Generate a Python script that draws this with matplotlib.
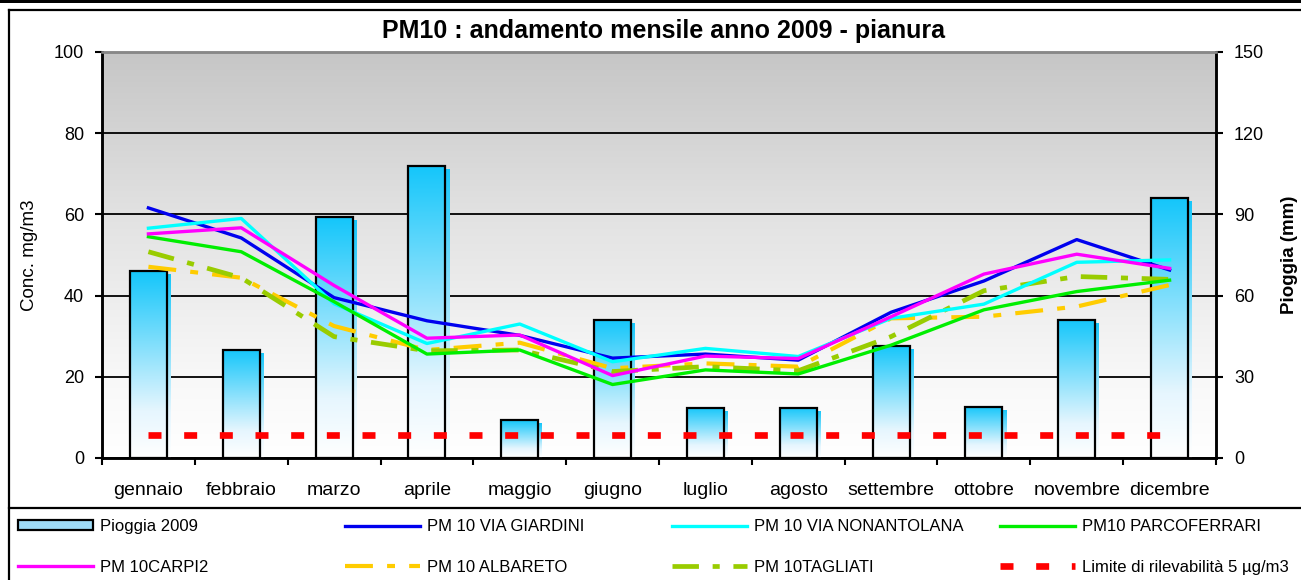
import numpy as np
import matplotlib
matplotlib.use("Agg")
import matplotlib.pyplot as plt
from matplotlib.colors import LinearSegmentedColormap
from matplotlib.lines import Line2D
from matplotlib.patches import Patch, Rectangle

plt.rcParams['font.family'] = ['Liberation Sans', 'DejaVu Sans']

months = ["gennaio", "febbraio", "marzo", "aprile", "maggio", "giugno",
          "luglio", "agosto", "settembre", "ottobre", "novembre", "dicembre"]

pioggia_2009 = [69, 40, 89, 108, 14, 51, 18.5, 18.5, 41.5, 19, 51, 96]

pm10_giardini = [61.6, 54.2, 39.5, 33.8, 30.2, 24.6, 25.6, 24.1, 35.9, 43.6, 53.8, 46.3]
pm10_nonantolana = [56.6, 59.0, 38.0, 28.2, 33.0, 23.7, 27.0, 25.0, 34.4, 37.9, 48.2, 48.8]
pm10_parcoferrari = [54.5, 50.8, 38.5, 25.6, 26.6, 18.1, 21.7, 20.7, 27.8, 36.5, 41.0, 43.8]
pm10_carpi2 = [55.2, 56.7, 42.5, 29.5, 30.3, 20.3, 25.1, 24.5, 34.8, 45.3, 50.2, 46.7]
pm10_albareto = [47.1, 44.4, 32.5, 26.6, 28.4, 22.1, 23.3, 22.5, 34.4, 34.8, 37.3, 42.6]
pm10_tagliati = [50.8, 44.4, 29.9, 26.4, 26.6, 21.3, 22.5, 21.5, 29.9, 41.2, 44.7, 44.0]
limite = [5.6] * 12

left_ticks = [0, 20, 40, 60, 80, 100]
right_ticks = [0, 30, 60, 90, 120, 150]

W, H = 1301, 580
fig = plt.figure(figsize=(W / 100, H / 100), dpi=100)
L, R, T, B = 102, 1216, 52, 458
ax2 = fig.add_axes([L / W, 1 - B / H, (R - L) / W, (B - T) / H])
ax = ax2.twinx()
ax.yaxis.tick_left()
ax.yaxis.set_label_position('left')
ax2.yaxis.tick_right()
ax2.yaxis.set_label_position('right')
ax.set_zorder(ax2.get_zorder() + 1)
ax.patch.set_visible(False)

x = np.arange(len(months))
xlim = (-0.5, len(months) - 0.5)

# background gradient
bg_cmap = LinearSegmentedColormap.from_list(
    'bg', [(0, '#ffffff'), (0.2, '#f8f8f8'), (0.6, '#e2e2e2'), (1, '#c6c6c6')])
grad = np.linspace(0, 1, 256).reshape(-1, 1)
ax2.imshow(grad, extent=[xlim[0], xlim[1], 0, 150], origin='lower', cmap=bg_cmap,
           aspect='auto', zorder=0)

# bars with gradient
bar_cmap = LinearSegmentedColormap.from_list('bar', [(0, '#ffffff'), (0.25, '#e6f6fe'), (1, '#14c6fa')])
shadow = ax2.bar(x + 0.035, np.array(pioggia_2009) - 1.1, width=0.4, color='none', lw=0, zorder=1.5)
for b in shadow:
    x0, w, h = b.get_x(), b.get_width(), b.get_height()
    im = ax2.imshow(grad, extent=[x0, x0 + w, 0, h], origin='lower', cmap=bar_cmap,
                    aspect='auto', zorder=1.5)
    im.set_clip_path(b)
bars = ax2.bar(x, pioggia_2009, width=0.4, facecolor='none', edgecolor='black', lw=1.6, zorder=3)
for b in bars:
    x0, w, h = b.get_x(), b.get_width(), b.get_height()
    im = ax2.imshow(grad, extent=[x0, x0 + w, 0, h], origin='lower', cmap=bar_cmap,
                    aspect='auto', zorder=2)
    im.set_clip_path(b)

ax2.set_xlim(*xlim)
ax2.set_ylim(0, 150)
ax2.set_yticks(right_ticks)
ax2.set_axisbelow(True)
ax2.yaxis.grid(True, color='black', lw=1.3)

# x axis (shown by ax2, shared with ax)
ax2.set_xticks(np.arange(-0.5, len(months)), minor=False)
ax2.set_xticklabels([])
ax2.set_xticks(x, minor=True)
ax2.set_xticklabels(months, minor=True, fontsize=14)
ax2.tick_params(axis='x', which='major', direction='out', length=5, width=1.5)
ax2.tick_params(axis='x', which='minor', length=0, pad=17)

# lines
lw = 2.4
l_gia, = ax.plot(x, pm10_giardini, color='#0000ee', lw=lw, zorder=5)
l_non, = ax.plot(x, pm10_nonantolana, color='#00ffff', lw=lw, zorder=5)
l_par, = ax.plot(x, pm10_parcoferrari, color='#00ee00', lw=lw, zorder=5)
l_car, = ax.plot(x, pm10_carpi2, color='#ff00ff', lw=lw, zorder=5)
l_alb, = ax.plot(x, pm10_albareto, color='#ffcc00', lw=3.0, dashes=(6.7, 3.4, 1.9, 3.4),
                 zorder=4)
l_tag, = ax.plot(x, pm10_tagliati, color='#99cc00', lw=3.4, dashes=(5.6, 2.9, 1.5, 2.9),
                 zorder=4)
l_lim, = ax.plot(x, limite, color='#ff0000', lw=4.8, dashes=(1.95, 3.4), zorder=4)

ax.set_xlim(*xlim)
ax.set_ylim(0, 100)
ax.set_yticks(left_ticks)
ax.tick_params(axis='y', direction='out', length=5, width=1.5, labelsize=13, pad=8)
ax2.tick_params(axis='y', direction='out', length=5, width=1.5, labelsize=13, pad=8)

for a in (ax, ax2):
    for s in ('left', 'right', 'bottom'):
        a.spines[s].set_linewidth(1.8)
        a.spines[s].set_color('black')
    a.spines['top'].set_color('#888888')
    a.spines['top'].set_linewidth(1.8)

ax.set_ylabel("Conc. mg/m3", fontsize=13.5)
ax.yaxis.set_label_coords((38 - L) / (R - L), 0.5)
ax2.set_ylabel("Pioggia (mm)", fontsize=13.5, fontweight='bold', rotation=90)
ax2.yaxis.set_label_coords((1281 - L) / (R - L), 0.5)

fig.text(0.5 * (370 + 958) / W, 1 - 31 / H, "PM10 : andamento mensile anno 2009 - pianura",
         ha='center', va='center', fontsize=18, fontweight='bold')

# frame lines
fig.add_artist(Rectangle((0, 1 - 3 / H), 1, 3 / H, transform=fig.transFigure,
                         color='black', lw=0))
fig.add_artist(Line2D([8.5 / W, 1], [1 - 10 / H, 1 - 10 / H], transform=fig.transFigure,
                      color='black', lw=1.6))
fig.add_artist(Line2D([8.5 / W, 8.5 / W], [0, 1 - 10 / H], transform=fig.transFigure,
                      color='black', lw=1.6))
fig.add_artist(Line2D([8.5 / W, 1], [1 - 508 / H, 1 - 508 / H], transform=fig.transFigure,
                      color='black', lw=1.6))

# legends
rain_handle = Patch(facecolor='#9fdcf8', edgecolor='black', lw=1.6)
cols = [
    (18, [rain_handle, l_car], ["Pioggia 2009", "PM 10CARPI2"]),
    (345, [l_gia, l_alb], ["PM 10 VIA GIARDINI", "PM 10 ALBARETO"]),
    (672, [l_non, l_tag], ["PM 10 VIA NONANTOLANA", "PM 10TAGLIATI"]),
    (1000, [l_par, l_lim], ["PM10 PARCOFERRARI", "Limite di rilevabilità 5 µg/m3"]),
]
for xpx, hs, labs in cols:
    fig.legend(hs, labs, loc='center left', bbox_to_anchor=(xpx / W, 1 - 547 / H),
               frameon=False, fontsize=12, handlelength=4.5, handletextpad=0.4,
               labelspacing=1.55, borderpad=0, borderaxespad=0, handleheight=0.55)

fig.savefig("out.png", dpi=100)
